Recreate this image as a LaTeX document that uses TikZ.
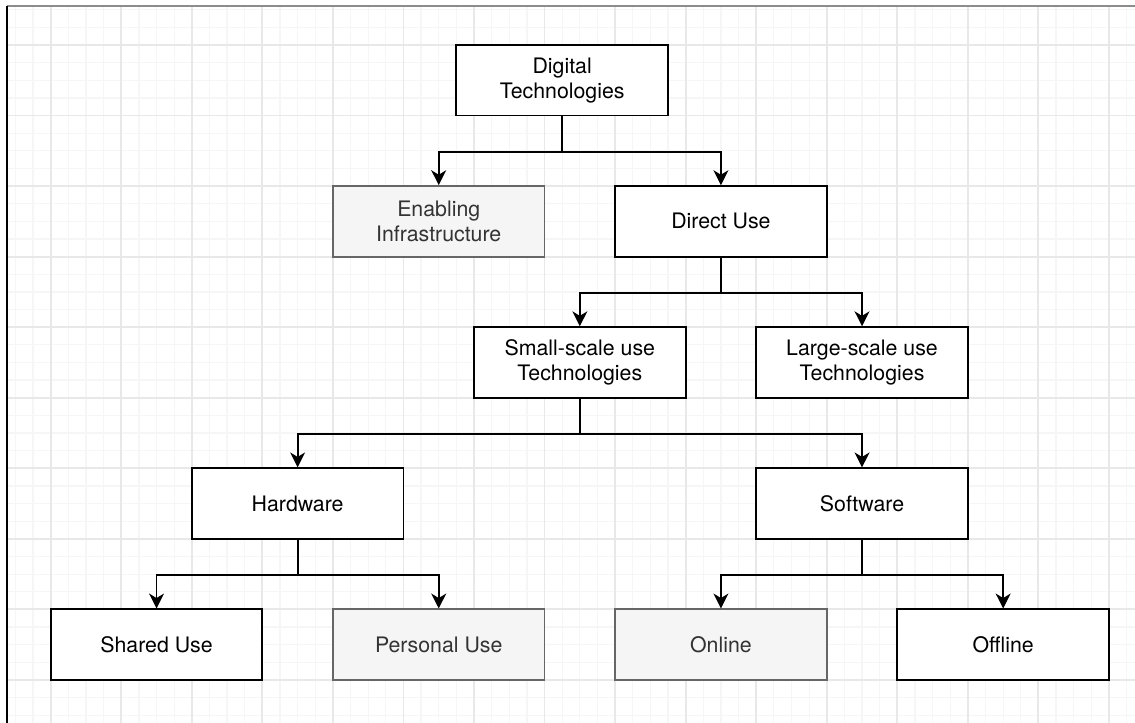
\documentclass[tikz,border=0pt]{standalone}
\usepackage{fontspec}
\setmainfont{TeX Gyre Heros}
\usetikzlibrary{arrows.meta}
\definecolor{gridMajor}{HTML}{E8E8E8}
\definecolor{gridMinor}{HTML}{F6F6F6}
\definecolor{boxFill}{HTML}{F5F5F5}
\definecolor{boxLine}{HTML}{666666}
\definecolor{boxText}{HTML}{333333}
\definecolor{frameTop}{HTML}{8C8C8C}
\begin{document}
\begin{tikzpicture}[x=1cm,y=1cm,font=\fontsize{8.6}{10.2}\selectfont,
  box/.style={draw=black,fill=white,line width=0.75pt,minimum width=3cm,minimum height=1cm,inner sep=0pt,align=center},
  greybox/.style={box,draw=boxLine,fill=boxFill,text=boxText},
  arr/.style={line width=0.75pt,-{Stealth[length=6pt,width=6pt,inset=1.8pt]}}]
  \path[use as bounding box] (-0.7187,0.6378) rectangle (15.3691,-9.6102);
  \fill[white] (-0.7187,0.6378) rectangle (15.3691,-9.6102);
  \begin{scope}
    \clip (-0.615,0.553) rectangle (15.3691,-9.6102);
    \foreach \n in {-3,...,62} {
      \draw[gridMinor,line width=0.5pt] (\n/4,0.7) -- (\n/4,-9.7);
    }
    \foreach \n in {-3,...,39} {
      \draw[gridMinor,line width=0.5pt] (-0.8,-\n/4) -- (15.4,-\n/4);
    }
    \foreach \n in {0,...,15} {
      \draw[gridMajor,line width=0.75pt] (\n,0.7) -- (\n,-9.7);
    }
    \foreach \n in {0,...,9} {
      \draw[gridMajor,line width=0.75pt] (-0.8,-\n) -- (15.4,-\n);
    }
  \end{scope}
  \draw[frameTop,line width=0.75pt] (-0.615,0.553) -- (15.3691,0.553);
  \draw[black,line width=0.75pt] (-0.615,0.553) -- (-0.615,-9.6102);
  \node[box]     (digital)  at (7.25,-0.5) {Digital\\Technologies};
  \node[greybox] (enabling) at (5.5,-2.5)  {Enabling\\Infrastructure};
  \node[box]     (direct)   at (9.5,-2.5)  {Direct Use};
  \node[box]     (small)    at (7.5,-4.5)  {Small-scale use\\Technologies};
  \node[box]     (large)    at (11.5,-4.5) {Large-scale use\\Technologies};
  \node[box]     (hardware) at (3.5,-6.5)  {Hardware};
  \node[box]     (software) at (11.5,-6.5) {Software};
  \node[box]     (shared)   at (1.5,-8.5)  {Shared Use};
  \node[greybox] (personal) at (5.5,-8.5)  {Personal Use};
  \node[greybox] (online)   at (9.5,-8.5)  {Online};
  \node[box]     (offline)  at (13.5,-8.5) {Offline};
  \draw[arr] (digital.south) -- ++(0,-0.5) -| (enabling.north);
  \draw[arr] (digital.south) -- ++(0,-0.5) -| (direct.north);
  \draw[arr] (direct.south) -- ++(0,-0.5) -| (small.north);
  \draw[arr] (direct.south) -- ++(0,-0.5) -| (large.north);
  \draw[arr] (small.south) -- ++(0,-0.5) -| (hardware.north);
  \draw[arr] (small.south) -- ++(0,-0.5) -| (software.north);
  \draw[arr] (hardware.south) -- ++(0,-0.5) -| (shared.north);
  \draw[arr] (hardware.south) -- ++(0,-0.5) -| (personal.north);
  \draw[arr] (software.south) -- ++(0,-0.5) -| (online.north);
  \draw[arr] (software.south) -- ++(0,-0.5) -| (offline.north);
\end{tikzpicture}
\end{document}
